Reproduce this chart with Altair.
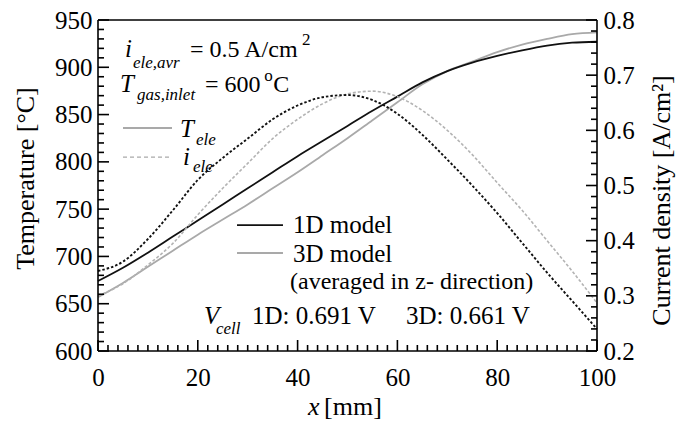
import altair as alt
import pandas as pd

# Axial position along the cell [mm]
x_mm = [0, 5, 10, 15, 20, 25, 30, 35, 40, 45, 50,
        55, 60, 65, 70, 75, 80, 85, 90, 95, 100]

# Electrolyte temperature [degC]
temp_1d = [674, 688, 704, 721, 738, 755, 772, 789, 806, 822, 838,
           854, 869, 884, 896, 905, 912, 918, 923, 926, 927]
temp_3d = [657, 672, 689, 706, 723, 739, 755, 772, 789, 807, 825,
           844, 863, 882, 896, 906, 916, 924, 930, 935, 937]

# Local current density [A/cm2]
cur_1d = [0.345, 0.362, 0.403, 0.455, 0.510, 0.550, 0.585, 0.620, 0.645, 0.660, 0.664,
          0.655, 0.630, 0.592, 0.547, 0.500, 0.450, 0.396, 0.342, 0.291, 0.240]
cur_3d = [0.300, 0.322, 0.356, 0.395, 0.447, 0.495, 0.540, 0.585, 0.620, 0.648, 0.666,
          0.671, 0.661, 0.636, 0.600, 0.556, 0.505, 0.455, 0.400, 0.345, 0.287]

# Tick positions
x_major = [0, 20, 40, 60, 80, 100]
x_minor = [v for v in range(0, 101, 2) if v % 20]
temp_major = list(range(600, 951, 50))
temp_minor = [v for v in range(600, 951, 10) if v % 50]
cur_major = [0.2, 0.3, 0.4, 0.5, 0.6, 0.7, 0.8]
cur_minor = [round(0.2 + 0.02 * k, 2) for k in range(31) if k % 5]

W, H = 499, 331
SERIF = "'Liberation Serif', 'Times New Roman', Times, serif"
INK = "#111111"
GREY = "#a9a9a9"

# conversions used for the inward tick lengths (px -> data units)
MM_PER_PX = 100 / W
DEG_PER_PX = 350 / H
MAJOR_PX, MINOR_PX = 11, 6

x_scale = alt.Scale(domain=[0, 100], nice=False, zero=False)
t_scale = alt.Scale(domain=[600, 950], nice=False, zero=False)
c_scale = alt.Scale(domain=[0.2, 0.8], nice=False, zero=False)

common_axis = dict(ticks=False, tickSize=0, domain=False, grid=False,
                   labelFont=SERIF, labelFontSize=25, labelColor="black",
                   labelFlush=False, labelOverlap=False)

x_axis = alt.Axis(values=x_major, title=None, labelPadding=14, format="d", **common_axis)
t_axis = alt.Axis(values=temp_major, orient="left", format="d", labelPadding=6,
                  title="Temperature [°C]", titleFont=SERIF, titleFontSize=26,
                  titleFontWeight="normal", titleColor="black", titleAngle=270,
                  titleX=-65, titleY=158, titleAlign="center", titleBaseline="alphabetic",
                  **common_axis)
c_axis = alt.Axis(values=cur_major, orient="right", format=".1f", labelPadding=6,
                  title="Current density [A/cm²]", titleFont=SERIF, titleFontSize=26,
                  titleFontWeight="normal", titleColor="black", titleAngle=270,
                  titleX=72, titleY=180, titleAlign="center", titleBaseline="alphabetic",
                  **common_axis)

X = alt.X("x:Q", scale=x_scale, axis=x_axis)
YT_AX = alt.Y("T:Q", scale=t_scale, axis=t_axis)
YT = alt.Y("T:Q", scale=t_scale, axis=None)
YC_AX = alt.Y("i:Q", scale=c_scale, axis=c_axis)
YC = alt.Y("i:Q", scale=c_scale, axis=None)

temps = pd.DataFrame({"x": x_mm, "T1": temp_1d, "T3": temp_3d})
curs = pd.DataFrame({"x": x_mm, "i1": cur_1d, "i3": cur_3d})


def temp_line(field, color, width, y=YT):
    return alt.Chart(temps).transform_calculate(T=f"datum.{field}").mark_line(
        color=color, strokeWidth=width, interpolate="monotone"
    ).encode(x=X, y=y)


def cur_line(field, color, width, dash, y=YC):
    return alt.Chart(curs).transform_calculate(i=f"datum.{field}").mark_line(
        color=color, strokeWidth=width, strokeDash=dash, interpolate="monotone"
    ).encode(x=X, y=y)


def note(x, t, text, size=25, italic=False):
    df = pd.DataFrame({"x": [x], "T": [t], "label": [text]})
    return alt.Chart(df).mark_text(
        align="left", baseline="alphabetic", font=SERIF, fontSize=size,
        fontStyle="italic" if italic else "normal", color="black"
    ).encode(x=X, y=YT, text="label:N")


def key_line(x0, x1, t, color, width, dash=None):
    df = pd.DataFrame({"x": [x0, x1], "T": [t, t]})
    kw = dict(color=color, strokeWidth=width)
    if dash:
        kw["strokeDash"] = dash
    return alt.Chart(df).mark_line(**kw).encode(x=X, y=YT)


# Plot frame and inward tick marks, each a two-point segment
rows_t = [
    {"id": 0, "x": 0.0, "T": 600.0}, {"id": 0, "x": 100.0, "T": 600.0},
    {"id": 1, "x": 0.0, "T": 950.0}, {"id": 1, "x": 100.0, "T": 950.0},
    {"id": 2, "x": 0.0, "T": 600.0}, {"id": 2, "x": 0.0, "T": 950.0},
    {"id": 3, "x": 100.0, "T": 600.0}, {"id": 3, "x": 100.0, "T": 950.0},
]
k = 4
for v in x_major + x_minor:
    n = MAJOR_PX if v in x_major else MINOR_PX
    rows_t += [{"id": k, "x": float(v), "T": 600.0},
               {"id": k, "x": float(v), "T": 600 + n * DEG_PER_PX}]
    k += 1
for v in temp_major + temp_minor:
    n = MAJOR_PX if v in temp_major else MINOR_PX
    rows_t += [{"id": k, "x": 0.0, "T": float(v)},
               {"id": k, "x": n * MM_PER_PX, "T": float(v)}]
    k += 1
frame_t = alt.Chart(pd.DataFrame(rows_t)).mark_line(color="#000000", strokeWidth=1.6).encode(
    x=X, y=YT, detail="id:N")

rows_c = []
for v in cur_major + cur_minor:
    n = MAJOR_PX if v in cur_major else MINOR_PX
    rows_c += [{"id": k, "x": 100.0 - n * MM_PER_PX, "i": float(v)},
               {"id": k, "x": 100.0, "i": float(v)}]
    k += 1
ticks_c = alt.Chart(pd.DataFrame(rows_c)).mark_line(color="#000000", strokeWidth=1.6).encode(
    x=X, y=YC, detail="id:N")

layers = [
    temp_line("T3", GREY, 1.8, y=YT_AX),
    temp_line("T1", INK, 1.8),
    cur_line("i3", "#b3b3b3", 1.6, [3, 2], y=YC_AX),
    cur_line("i1", INK, 1.9, [2.5, 2]),
    frame_t,
    ticks_c,
    # operating conditions
    note(5.41, 910.9, "i", italic=True),
    note(7.01, 899.2, "ele,avr", size=17, italic=True),
    note(18.44, 910.9, "= 0.5 A/cm", size=24),
    note(40.9, 923.6, "2", size=17),
    note(4.41, 873.9, "T", italic=True),
    note(7.82, 865.4, "gas,inlet", size=17, italic=True),
    note(21.44, 873.9, "= 600", size=24),
    note(33.3, 885.5, "o", size=17),
    note(35.1, 873.9, "C", size=24),
    # variable key
    key_line(5.01, 14.83, 835.8, GREY, 1.8),
    note(16.43, 826.3, "T", italic=True),
    note(19.64, 817.8, "ele", size=17, italic=True),
    key_line(5.01, 14.83, 805.1, GREY, 1.2, [4, 3]),
    note(17.03, 796.7, "i", italic=True),
    note(19.04, 789.3, "ele", size=17, italic=True),
    # model key
    key_line(27.86, 37.07, 733.2, INK, 1.8),
    note(39.08, 724.8, "1D model"),
    key_line(27.86, 37.07, 703.6, GREY, 1.8),
    note(39.08, 694.1, "3D model"),
    note(38.48, 665.6, "(averaged in z- direction)", size=24),
    # cell voltages
    note(21.24, 628.5, "V", italic=True),
    note(23.65, 618.0, "cell", size=17, italic=True),
    note(30.86, 628.5, "1D: 0.691 V"),
    note(61.72, 628.5, "3D: 0.661 V"),
    # x axis title
    note(42.08, 532.3, "x", size=26, italic=True),
    note(45.3, 532.3, "[mm]", size=26),
]

chart = alt.layer(*layers).resolve_scale(y="independent").properties(
    width=W, height=H,
    autosize=alt.AutoSizeParams(type="none"),
    padding={"left": 98, "top": 20, "right": 80, "bottom": 72},
    background="white",
).configure_view(strokeWidth=0)

chart.save("out.html", embed_options={"renderer": "svg", "actions": False})
